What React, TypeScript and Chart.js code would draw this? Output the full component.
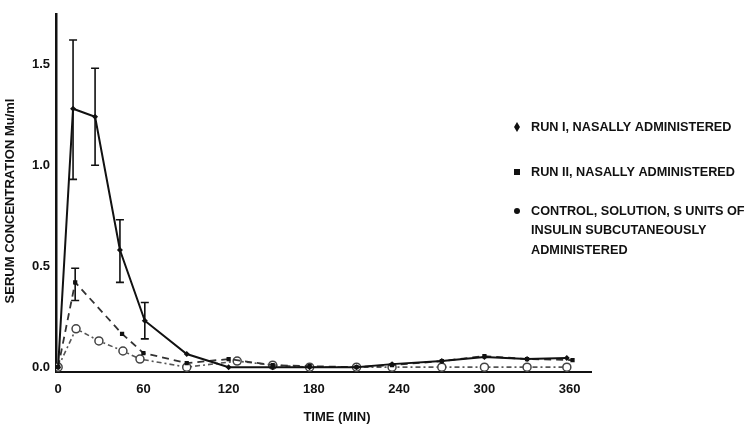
import React, { useEffect, useRef } from "react";
import { Chart, registerables } from "chart.js";

Chart.register(...registerables);

// ---- data (time in minutes, serum concentration Mu/ml) ----
const runITimes = [0, 10.5, 26, 43.5, 61, 90.5, 120, 151, 177, 210, 235, 270, 300, 330, 358];
const runIValues = [0, 1.28, 1.24, 0.58, 0.23, 0.065, 0.0, 0.0, 0.0, 0.0, 0.015, 0.03, 0.05, 0.04, 0.045];
const runIErrLow = [null, 0.93, 1.0, 0.42, 0.14, null, null, null, null, null, null, null, null, null, null];
const runIErrHigh = [null, 1.62, 1.48, 0.73, 0.32, null, null, null, null, null, null, null, null, null, null];

const runIITimes = [0, 12, 45, 60, 90.5, 120, 151, 177, 210, 235, 270, 300, 330, 362];
const runIIValues = [0, 0.42, 0.165, 0.07, 0.02, 0.04, 0.01, 0.005, 0.0, 0.01, 0.03, 0.055, 0.04, 0.035];
const runIIErrLow = [null, 0.33, null, null, null, null, null, null, null, null, null, null, null, null];
const runIIErrHigh = [null, 0.49, null, null, null, null, null, null, null, null, null, null, null, null];

const controlTimes = [0, 12.6, 28.7, 45.6, 57.6, 90.5, 126, 151, 177, 210, 235, 270, 300, 330, 358];
const controlValues = [0, 0.19, 0.13, 0.08, 0.04, 0.0, 0.03, 0.01, 0.0, 0.0, 0.0, 0.0, 0.0, 0.0, 0.0];

const xTickValues = [0, 60, 120, 180, 240, 300, 360];
const yTickValues = [0, 0.5, 1.0, 1.5];

const legendEntries = [
  { marker: "diamond", lines: ["RUN I, NASALLY ADMINISTERED"] },
  { marker: "square", lines: ["RUN II, NASALLY ADMINISTERED"] },
  { marker: "dot", lines: ["CONTROL, SOLUTION, S UNITS OF", "INSULIN SUBCUTANEOUSLY", "ADMINISTERED"] },
];

const xTitle = "TIME (MIN)";
const yTitle = "SERUM CONCENTRATION Mu/ml";

const FONT = "'Liberation Sans', Arial, sans-serif";

const toPoints = (xs: number[], ys: number[]) => xs.map((x, i) => ({ x, y: ys[i] }));

const customPlugin = {
  id: "customDraw",
  afterDatasetsDraw(chart: any) {
    const { ctx, scales } = chart;
    const x = scales.x;
    const y = scales.y;
    ctx.save();
    ctx.strokeStyle = "#111";
    ctx.lineWidth = 1.6;
    const drawBars = (ts: number[], lo: (number | null)[], hi: (number | null)[]) => {
      ts.forEach((t, i) => {
        const l = lo[i];
        const h = hi[i];
        if (l == null || h == null) return;
        const px = x.getPixelForValue(t);
        const pl = y.getPixelForValue(l);
        const ph = y.getPixelForValue(h);
        ctx.beginPath();
        ctx.moveTo(px, pl);
        ctx.lineTo(px, ph);
        ctx.moveTo(px - 4, pl);
        ctx.lineTo(px + 4, pl);
        ctx.moveTo(px - 4, ph);
        ctx.lineTo(px + 4, ph);
        ctx.stroke();
      });
    };
    drawBars(runITimes, runIErrLow, runIErrHigh);
    drawBars(runIITimes, runIIErrLow, runIIErrHigh);
    ctx.restore();
  },
  afterDraw(chart: any) {
    const { ctx } = chart;
    ctx.save();
    ctx.fillStyle = "#111";
    ctx.font = `bold 13px ${FONT}`;
    ctx.textBaseline = "middle";
    // axis titles
    ctx.textAlign = "center";
    ctx.fillText(xTitle, 337, 417);
    ctx.save();
    ctx.translate(10, 201);
    ctx.rotate(-Math.PI / 2);
    ctx.fillText(yTitle, 0, 0);
    ctx.restore();
    // legend
    ctx.font = `bold 12.7px ${FONT}`;
    const rowY = [127, 172, 211];
    const lineGap = 19.5;
    ctx.textAlign = "left";
    legendEntries.forEach((e, i) => {
      const cy = rowY[i];
      const mx = 517;
      ctx.beginPath();
      if (e.marker === "diamond") {
        ctx.moveTo(mx, cy - 5);
        ctx.lineTo(mx + 3, cy);
        ctx.lineTo(mx, cy + 5);
        ctx.lineTo(mx - 3, cy);
        ctx.closePath();
        ctx.fill();
      } else if (e.marker === "square") {
        ctx.fillRect(mx - 3, cy - 3, 6, 6);
      } else {
        ctx.arc(mx, cy, 3, 0, Math.PI * 2);
        ctx.fill();
      }
      e.lines.forEach((ln, j) => {
        ctx.fillText(ln, 531, cy + j * lineGap);
      });
    });
    ctx.restore();
  },
};

export default function App() {
  const ref = useRef<HTMLCanvasElement | null>(null);
  useEffect(() => {
    if (!ref.current) return;
    const chart = new Chart(ref.current, {
      type: "line",
      data: {
        datasets: [
          {
            label: "RUN I, NASALLY ADMINISTERED",
            data: toPoints(runITimes, runIValues),
            borderColor: "#111",
            backgroundColor: "#111",
            borderWidth: 2,
            pointStyle: "rectRot",
            pointRadius: 3,
            pointBackgroundColor: "#111",
            pointBorderWidth: 0,
            tension: 0,
          },
          {
            label: "RUN II, NASALLY ADMINISTERED",
            data: toPoints(runIITimes, runIIValues),
            borderColor: "#333",
            backgroundColor: "#111",
            borderWidth: 1.8,
            borderDash: [7, 5],
            pointStyle: "rect",
            pointRadius: 3,
            pointBackgroundColor: "#111",
            pointBorderWidth: 0,
            tension: 0,
          },
          {
            label: "CONTROL",
            data: toPoints(controlTimes, controlValues),
            borderColor: "#555",
            backgroundColor: "#fff",
            borderWidth: 1.6,
            borderDash: [5, 3, 2, 3],
            pointStyle: "circle",
            pointRadius: 4,
            pointBackgroundColor: "#fff",
            pointBorderColor: "#444",
            pointBorderWidth: 1.5,
            tension: 0,
          },
        ],
      },
      options: {
        responsive: false,
        animation: false,
        layout: { padding: { top: 3, right: 158, left: 0, bottom: 0 } },
        plugins: {
          legend: { display: false },
          tooltip: { enabled: false },
        },
        scales: {
          x: {
            type: "linear",
            min: -1.5,
            max: 375,
            afterBuildTicks: (s: any) => {
              s.ticks = xTickValues.map((v) => ({ value: v }));
            },
            afterFit: (s: any) => {
              s.height = 54;
            },
            grid: { display: true, drawOnChartArea: false, drawTicks: false },
            border: { display: true, color: "#111", width: 2 },
            ticks: {
              color: "#111",
              font: { family: FONT, size: 13, weight: "bold" },
              padding: 10,
              maxRotation: 0,
              autoSkip: false,
              callback: (v: any) => String(v),
            },
          },
          y: {
            type: "linear",
            min: -0.024,
            max: 1.75,
            afterBuildTicks: (s: any) => {
              s.ticks = yTickValues.map((v) => ({ value: v }));
            },
            afterFit: (s: any) => {
              s.width = 56;
            },
            grid: { display: true, drawOnChartArea: false, drawTicks: false },
            border: { display: true, color: "#111", width: 2.5 },
            ticks: {
              color: "#111",
              font: { family: FONT, size: 13, weight: "bold" },
              padding: 6,
              autoSkip: false,
              callback: (v: any) => Number(v).toFixed(1),
            },
          },
        },
      },
      plugins: [customPlugin],
    } as any);
    return () => chart.destroy();
  }, []);
  return (
    <div style={{ position: "absolute", left: 0, top: 0, width: 749, height: 426, background: "#fff" }}>
      <canvas ref={ref} width={749} height={426} />
    </div>
  );
}
